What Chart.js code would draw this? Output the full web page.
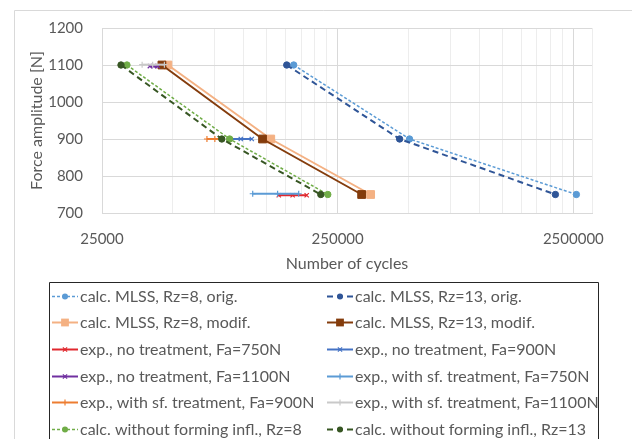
<!DOCTYPE html>
<html>
<head>
<meta charset="utf-8">
<script src="https://cdn.jsdelivr.net/npm/chart.js@4/dist/chart.umd.min.js"></script>
<style>
  html, body { margin: 0; padding: 0; background: #fff; }
  #wrap { width: 632px; height: 439px; }
</style>
</head>
<body>
<div id="wrap"><canvas id="fatigueChart" width="632" height="439"></canvas></div>
<script>
// force levels of the calculated curves (top to bottom)
const forceLevels = [1100, 900, 750];

// calculated lifetimes [cycles] for each force level
const mlssOrigRz8 = [162700, 504500, 2575000];
const mlssOrigRz13 = [152000, 458000, 2098000];
const mlssModRz8 = [47600, 130000, 345000];
const mlssModRz13 = [44900, 120000, 316000];
const noFormRz8 = [31900, 87000, 227000];
const noFormRz13 = [30100, 80600, 212000];

// experiments: cycles of the tested samples + their force level
const expNo750 = [140600, 161000, 184700];
const expNo750Fa = 748;
const expNo900 = [87200, 97000, 108000];
const expNo900Fa = 900;
const expNo1100 = [39900, 41500, 43100];
const expNo1100Fa = 1097;
const expSf750 = [109000, 139000, 170800];
const expSf750Fa = 752;
const expSf900 = [69700, 75300, 80600];
const expSf900Fa = 900;
const expSf1100 = [37000, 41000, 46000];
const expSf1100Fa = 1101;

// axis ticks
const yTicks = [700, 800, 900, 1000, 1100, 1200];
const xMajorTicks = [25000, 250000, 2500000];
const xMinorFactors = [2, 3, 4, 5, 6, 7, 8, 9];
const xMin = 25000;
const xMax = 3000000;

const textGrey = '#595959';
const fontName = 'Lato, "Open Sans", sans-serif';

function curve(xs) {
  return xs.map((x, i) => ({ x: x, y: forceLevels[i] }));
}
function level(xs, fa) {
  return xs.map(x => ({ x: x, y: fa }));
}

function calcSet(label, xs, color, dash, style, radius, width) {
  return {
    label: label,
    data: curve(xs),
    showLine: true,
    borderColor: color,
    backgroundColor: color,
    borderWidth: width,
    borderDash: dash,
    pointStyle: style,
    pointRadius: radius,
    pointBorderWidth: 1,
    pointBorderColor: color,
    pointBackgroundColor: color
  };
}
function expSet(label, xs, fa, color, style) {
  return {
    label: label,
    data: level(xs, fa),
    showLine: true,
    borderColor: color,
    backgroundColor: color,
    borderWidth: 2,
    borderDash: [],
    pointStyle: style,
    pointRadius: 3,
    pointBorderWidth: 1.2,
    pointBorderColor: color,
    pointBackgroundColor: color
  };
}

const datasets = [
  calcSet('calc. MLSS, Rz=8, orig.', mlssOrigRz8, '#5B9BD5', [3, 2], 'circle', 3.2, 1.5),
  calcSet('calc. MLSS, Rz=13, orig.', mlssOrigRz13, '#2F5597', [6, 4], 'circle', 3.2, 2),
  calcSet('calc. MLSS, Rz=8, modif.', mlssModRz8, '#F4B183', [], 'rect', 5.5, 2),
  calcSet('calc. MLSS, Rz=13, modif.', mlssModRz13, '#843C0C', [], 'rect', 5.5, 2),
  expSet('exp., no treatment, Fa=750N', expNo750, expNo750Fa, '#E0282E', 'crossRot'),
  expSet('exp., no treatment, Fa=900N', expNo900, expNo900Fa, '#4472C4', 'crossRot'),
  expSet('exp., no treatment, Fa=1100N', expNo1100, expNo1100Fa, '#7030A0', 'crossRot'),
  expSet('exp., with sf. treatment, Fa=750N', expSf750, expSf750Fa, '#5B9BD5', 'cross'),
  expSet('exp., with sf. treatment, Fa=900N', expSf900, expSf900Fa, '#ED7D31', 'cross'),
  expSet('exp., with sf. treatment, Fa=1100N', expSf1100, expSf1100Fa, '#C9C9C9', 'cross'),
  calcSet('calc. without forming infl., Rz=8', noFormRz8, '#70AD47', [3, 2], 'circle', 3.2, 1.5),
  calcSet('calc. without forming infl., Rz=13', noFormRz13, '#375623', [6, 4], 'circle', 3.2, 2)
];
// later series on top, like the spreadsheet
datasets.forEach((d, i) => { d.order = datasets.length - i; });

const xTickValues = [];
xMajorTicks.forEach(m => {
  xTickValues.push(m);
  xMinorFactors.forEach(f => { if (m * f <= xMax) xTickValues.push(m * f); });
});
xTickValues.push(xMax);
xTickValues.sort((a, b) => a - b);

function marker(ctx, style, x, y, r, color) {
  ctx.save();
  ctx.setLineDash([]);
  ctx.fillStyle = color;
  ctx.strokeStyle = color;
  ctx.lineWidth = 1.2;
  ctx.beginPath();
  if (style === 'circle') {
    ctx.arc(x, y, r, 0, Math.PI * 2);
    ctx.fill();
  } else if (style === 'rect') {
    const s = r * Math.SQRT1_2;
    ctx.fillRect(x - s, y - s, 2 * s, 2 * s);
  } else if (style === 'crossRot') {
    ctx.moveTo(x - r * 0.7, y - r * 0.7); ctx.lineTo(x + r * 0.7, y + r * 0.7);
    ctx.moveTo(x + r * 0.7, y - r * 0.7); ctx.lineTo(x - r * 0.7, y + r * 0.7);
    ctx.stroke();
  } else if (style === 'cross') {
    ctx.moveTo(x, y - r); ctx.lineTo(x, y + r);
    ctx.stroke();
  }
  ctx.restore();
}

// grey chart frame + two column legend box below the plot
const frameAndLegend = {
  id: 'frameAndLegend',
  beforeDraw(chart) {
    const ctx = chart.ctx;
    ctx.save();
    ctx.strokeStyle = '#D9D9D9';
    ctx.lineWidth = 1;
    ctx.beginPath();
    ctx.moveTo(14.5, chart.height);
    ctx.lineTo(14.5, 10.5);
    ctx.lineTo(chart.width, 10.5);
    ctx.stroke();
    ctx.restore();
  },
  afterDraw(chart) {
    const ctx = chart.ctx;
    const left = 49.5, top = 282.5, right = 598.5;
    ctx.save();
    ctx.strokeStyle = '#262626';
    ctx.lineWidth = 1;
    ctx.beginPath();
    ctx.moveTo(left, chart.height + 2);
    ctx.lineTo(left, top);
    ctx.lineTo(right, top);
    ctx.lineTo(right, chart.height + 2);
    ctx.stroke();

    const cols = [{ x0: 52, x1: 78, tx: 80 }, { x0: 327, x1: 353, tx: 355 }];
    const rowY0 = 295.5, rowStep = 26.7;
    ctx.font = '16px ' + fontName;
    ctx.textBaseline = 'middle';
    ctx.textAlign = 'left';
    chart.data.datasets.forEach((ds, i) => {
      const c = cols[i % 2];
      const y = Math.round(rowY0 + Math.floor(i / 2) * rowStep) + 0.5;
      ctx.save();
      ctx.strokeStyle = ds.borderColor;
      ctx.lineWidth = ds.borderWidth;
      ctx.setLineDash(ds.borderDash || []);
      ctx.beginPath();
      ctx.moveTo(c.x0, y);
      ctx.lineTo(c.x1, y);
      ctx.stroke();
      ctx.restore();
      const r = ds.pointStyle === 'rect' ? 5.5 : 3;
      marker(ctx, ds.pointStyle, (c.x0 + c.x1) / 2, y, r, ds.borderColor);
      ctx.fillStyle = textGrey;
      ctx.fillText(ds.label, c.tx, y);
    });
    ctx.restore();
  }
};

const chart = new Chart(document.getElementById('fatigueChart'), {
  type: 'scatter',
  data: { datasets: datasets },
  plugins: [frameAndLegend],
  options: {
    responsive: false,
    animation: false,
    devicePixelRatio: 1,
    layout: { padding: { left: 14, right: 40, top: 25, bottom: 159 } },
    plugins: {
      legend: { display: false },
      tooltip: { enabled: false }
    },
    scales: {
      x: {
        type: 'logarithmic',
        min: xMin,
        max: xMax,
        afterFit: s => { s.height = 67; },
        afterBuildTicks: axis => { axis.ticks = xTickValues.map(v => ({ value: v })); },
        border: { color: '#D9D9D9' },
        grid: {
          drawTicks: false,
          color: c => (c.tick && xMajorTicks.includes(c.tick.value)) ? '#D9D9D9' : '#EDEDED'
        },
        ticks: {
          autoSkip: false,
          maxRotation: 0,
          padding: 17,
          color: textGrey,
          font: { family: fontName, size: 15 },
          callback: v => xMajorTicks.includes(v) ? String(v) : ''
        },
        title: {
          display: true,
          text: 'Number of cycles',
          color: textGrey,
          font: { family: fontName, size: 16 },
          padding: { top: 0, bottom: 7 }
        }
      },
      y: {
        type: 'linear',
        min: 700,
        max: 1200,
        afterFit: s => { s.width = 88; },
        afterBuildTicks: axis => { axis.ticks = yTicks.map(v => ({ value: v })); },
        border: { display: false },
        grid: { drawTicks: false, color: '#D9D9D9' },
        ticks: {
          padding: 19,
          color: textGrey,
          font: { family: fontName, size: 15 },
          callback: v => String(v)
        },
        title: {
          display: true,
          text: 'Force amplitude [N]',
          color: textGrey,
          font: { family: fontName, size: 16 },
          padding: { top: 13, bottom: 0 }
        }
      }
    }
  }
});
</script>
</body>
</html>
